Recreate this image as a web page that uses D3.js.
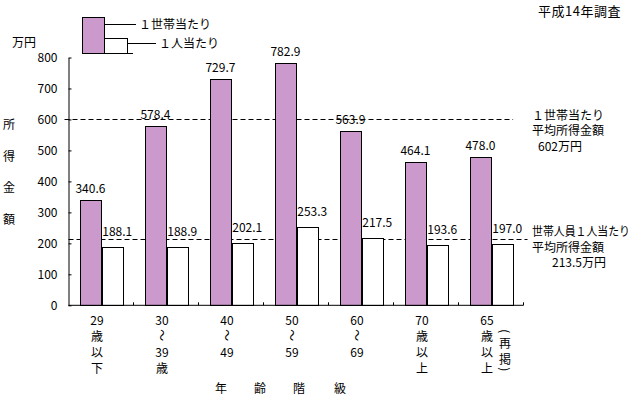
<!DOCTYPE html>
<html>
<head>
<meta charset="utf-8">
<script src="https://cdn.jsdelivr.net/npm/d3@7"></script>
<style>
  body { margin: 0; background: #fff; }
  svg { display: block; font-family: 'Noto Sans CJK JP', sans-serif; }
  text { fill: #000; }
</style>
</head>
<body>
<div id="chart"></div>
<script>
// Data
const categories = ['29歳以下', '30～39歳', '40～49歳', '50～59歳', '60～69歳', '70歳以上', '65歳以上（再掲）']
const categoryLines = [
    ['29', '歳', '以', '下'],
    ['30', '～', '39', '歳'],
    ['40', '～', '49'],
    ['50', '～', '59'],
    ['60', '～', '69'],
    ['70', '歳', '以', '上'],
    ['65', '歳', '以', '上']
]
const series = ['１世帯当たり', '１人当たり']
const perHousehold = [340.6, 578.4, 729.7, 782.9, 563.9, 464.1, 478.0]
const perPerson = [188.1, 188.9, 202.1, 253.3, 217.5, 193.6, 197.0]
const yTicks = [0, 100, 200, 300, 400, 500, 600, 700, 800]
const averages = [602, 213.5]
const averageNotes = [
    ['１世帯当たり', '平均所得金額', '602万円'],
    ['世帯人員１人当たり', '平均所得金額', '213.5万円']
]
const colors = ['#cc99cc', '#ffffff']

const width = 642
const height = 396
const margin = { top: 57.5, right: 118.5, bottom: 90.5, left: 68.5 }

const svg = d3.select('#chart').append('svg')
    .attr('width', width)
    .attr('height', height)

// Scales
const x = d3.scaleBand()
    .domain(categories)
    .range([margin.left, width - margin.right])
const bw = x.bandwidth()
const xSeries = d3.scaleBand()
    .domain(series)
    .range([bw * 0.17, bw * 0.84])
const y = d3.scaleLinear()
    .domain([0, 800])
    .range([height - margin.bottom - 0.2, margin.top])

const values = categories.map((c, i) => [perHousehold[i], perPerson[i]])

// Average lines (behind bars)
const avgExtent = [
    [margin.left - 4, x(categories[6]) + xSeries(series[1]) + xSeries.bandwidth()],
    [margin.left, width - margin.right + 4]
]
svg.append('g').selectAll('line')
    .data(averages)
    .join('line')
    .attr('x1', (d, i) => avgExtent[i][0])
    .attr('x2', (d, i) => avgExtent[i][1])
    .attr('y1', d => Math.round(y(d)) + 0.5)
    .attr('y2', d => Math.round(y(d)) + 0.5)
    .attr('stroke', '#000')
    .attr('stroke-dasharray', '5,3')

// Bars
const groups = svg.append('g').selectAll('g')
    .data(values)
    .join('g')
    .attr('transform', (d, i) => `translate(${x(categories[i])},0)`)

groups.selectAll('rect')
    .data(d => d.map((v, j) => ({ v, s: series[j], j })))
    .join('rect')
    .attr('x', d => Math.round(xSeries(d.s)) + 0.5)
    .attr('y', d => Math.round(y(d.v)) + 0.5)
    .attr('width', xSeries.bandwidth())
    .attr('height', d => y(0) - Math.round(y(d.v)))
    .attr('fill', d => colors[d.j])
    .attr('stroke', '#000')
    .attr('shape-rendering', 'crispEdges')

groups.selectAll('text.val')
    .data(d => d.map((v, j) => ({ v, s: series[j], j })))
    .join('text')
    .attr('class', 'val')
    .attr('x', d => xSeries(d.s) + xSeries.bandwidth() / 2 + (d.j ? 5 : 0))
    .attr('y', d => y(d.v) - (d.j ? 11 : 7))
    .attr('text-anchor', 'middle')
    .attr('font-size', 12)
    .text(d => d.v.toFixed(1))

// Y axis
const yAxis = d3.axisLeft(y)
    .tickValues(yTicks)
    .tickSizeInner(-3)
    .tickSizeOuter(0)
    .tickPadding(11)
svg.append('g')
    .attr('transform', `translate(${margin.left},0)`)
    .call(yAxis)
    .call(g => g.selectAll('text').attr('font-size', 12).attr('font-family', 'Noto Sans CJK JP'))
    .call(g => g.selectAll('line,path').attr('stroke', '#000'))

// X axis
const xBase = y(0)
const bounds = categories.map(c => x(c)).concat([x.range()[1]])
svg.append('line')
    .attr('x1', margin.left).attr('x2', x.range()[1])
    .attr('y1', xBase).attr('y2', xBase)
    .attr('stroke', '#000')
svg.append('g').selectAll('line')
    .data(bounds.slice(1))
    .join('line')
    .attr('x1', d => d).attr('x2', d => d)
    .attr('y1', xBase).attr('y2', xBase - 3)
    .attr('stroke', '#000')

// Category labels, written vertically one line per row
categoryLines.forEach((lines, i) => {
    const cx = x(categories[i]) + bw / 2 - 4
    svg.append('g').selectAll('text')
        .data(lines)
        .join('text')
        .attr('font-size', 12)
        .attr('text-anchor', 'middle')
        .attr('dominant-baseline', 'central')
        .attr('transform', (d, k) => {
            const cy = xBase + 14 + k * 16
            return d === '～' ? `translate(${cx},${cy}) rotate(90)` : `translate(${cx},${cy})`
        })
        .text(d => d)
})

// （再掲）
const reNote = ['(', '再', '掲', ')']
const reX = x(categories[6]) + bw / 2 + 14
svg.append('g').selectAll('text')
    .data(reNote)
    .join('text')
    .attr('font-size', 12)
    .attr('text-anchor', 'middle')
    .attr('dominant-baseline', 'central')
    .attr('transform', (d, k) => {
        const cy = xBase + [26, 37, 53, 64][k]
        return (d === '(' || d === ')') ? `translate(${reX},${cy}) rotate(90)` : `translate(${reX},${cy})`
    })
    .text(d => d)

// Axis titles
svg.append('g').selectAll('text')
    .data(['所', '得', '金', '額'])
    .join('text')
    .attr('x', 9)
    .attr('y', (d, i) => 129 + i * 31.7)
    .attr('font-size', 12)
    .attr('text-anchor', 'middle')
    .text(d => d)

svg.append('g').selectAll('text')
    .data(['年', '齢', '階', '級'])
    .join('text')
    .attr('x', (d, i) => [221, 260, 299, 340][i])
    .attr('y', 393)
    .attr('font-size', 12)
    .attr('text-anchor', 'middle')
    .text(d => d)

svg.append('text')
    .attr('x', 12).attr('y', 47)
    .attr('font-size', 12)
    .text('万円')

svg.append('text')
    .attr('x', 538).attr('y', 16)
    .attr('font-size', 13)
    .attr('letter-spacing', 0.5)
    .text('平成14年調査')

// Average notes
averageNotes.forEach((lines, i) => {
    const top = i ? y(averages[i]) - 3 : y(averages[i]) + 1
    const note = svg.append('text').attr('font-size', 12)
    lines.forEach((line, k) => {
        const t = note.append('tspan')
            .attr('x', k === 2 ? (i ? 552 : 538) : 532)
            .attr('y', top + k * 15.5)
            .text(line)
        if (i === 1 && k === 0) t.attr('textLength', 98).attr('lengthAdjust', 'spacingAndGlyphs')
    })
})

// Legend
const legend = svg.append('g').attr('shape-rendering', 'crispEdges')
legend.append('rect')
    .attr('x', 82.5).attr('y', 17.5).attr('width', 22).attr('height', 36)
    .attr('fill', colors[0]).attr('stroke', '#000')
legend.append('rect')
    .attr('x', 104.5).attr('y', 38.5).attr('width', 23).attr('height', 15)
    .attr('fill', colors[1]).attr('stroke', '#000')
legend.append('line')
    .attr('x1', 82).attr('x2', 133).attr('y1', 53.5).attr('y2', 53.5).attr('stroke', '#000')
legend.append('line')
    .attr('x1', 104).attr('x2', 136).attr('y1', 24.5).attr('y2', 24.5).attr('stroke', '#000')
legend.append('line')
    .attr('x1', 127).attr('x2', 156).attr('y1', 43.5).attr('y2', 43.5).attr('stroke', '#000')
legend.append('text')
    .attr('x', 139).attr('y', 29).attr('font-size', 12).text(series[0])
legend.append('text')
    .attr('x', 159).attr('y', 48).attr('font-size', 12).text(series[1])
</script>
</body>
</html>
